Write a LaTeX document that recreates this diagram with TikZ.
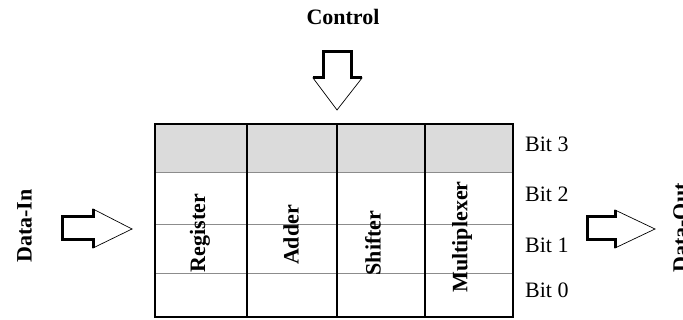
\documentclass[tikz,border=0pt]{standalone}
\usepackage{fontspec}
\setmainfont{Liberation Serif}
\begin{document}
\begin{tikzpicture}[x=1pt,y=-1pt,
  lbl/.style={font=\fontsize{22}{24}\selectfont\bfseries, inner sep=0pt},
  bitlbl/.style={font=\fontsize{22}{24}\selectfont, inner sep=0pt, anchor=base west},
  collbl/.style={lbl, rotate=90},
  thickedge/.style={line width=3pt, line join=miter, line cap=butt},
  thinedge/.style={line width=0.7pt, line join=miter},
  rowline/.style={line width=0.8pt, black!45},
  grid/.style={line width=2.6pt, line join=miter}]
\useasboundingbox (0,0) rectangle (683,320);
% table
\fill[black!14] (155,124) rectangle (513,172);
\draw[rowline] (155,172) -- (513,172);
\draw[rowline] (155,224) -- (513,224);
\draw[rowline] (155,273) -- (513,273);
\draw[grid] (155,124) rectangle (513,317);
\draw[grid] (247,124) -- (247,317);
\draw[grid] (337,124) -- (337,317);
\draw[grid] (425,124) -- (425,317);
% column labels
\node[collbl] (reg) at (200,233) {Register};
\node[collbl] (add) at (291,235) {Adder};
\node[collbl] (shf) at (373,243) {Shifter};
\node[collbl] (mux) at (462,237) {Multiplexer};
% bit labels
\node[bitlbl] (b3) at (525,152) {Bit 3};
\node[bitlbl] (b2) at (525,202) {Bit 2};
\node[bitlbl] (b1) at (525,253) {Bit 1};
\node[bitlbl] (b0) at (525,298) {Bit 0};
% titles
\node[lbl, anchor=base] (ctl) at (343,25) {Control};
\node[lbl, rotate=90, anchor=north] (din) at (17,226) {Data-In};
\node[lbl, rotate=90, anchor=north] (dout) at (673,228) {Data-Out};
% control arrow
\filldraw[fill=white, thinedge] (323,78) -- (323,52) -- (351,52) -- (351,78) -- (362,78) -- (337,110) -- (313,78) -- cycle;
\draw[thickedge] (313,78) -- (323,78) -- (323,52) -- (351,52) -- (351,78) -- (362,78);
% data-in arrow
\filldraw[fill=white, thinedge] (93,217) -- (62,217) -- (62,240) -- (93,240) -- (93,248) -- (132,229) -- (93,209) -- cycle;
\draw[thickedge] (93,209) -- (93,217) -- (62,217) -- (62,240) -- (93,240) -- (93,248);
% data-out arrow
\filldraw[fill=white, thinedge] (615,217) -- (587,217) -- (587,240) -- (615,240) -- (615,248) -- (655,229) -- (615,210) -- cycle;
\draw[thickedge] (615,210) -- (615,217) -- (587,217) -- (587,240) -- (615,240) -- (615,248);
\end{tikzpicture}
\end{document}
